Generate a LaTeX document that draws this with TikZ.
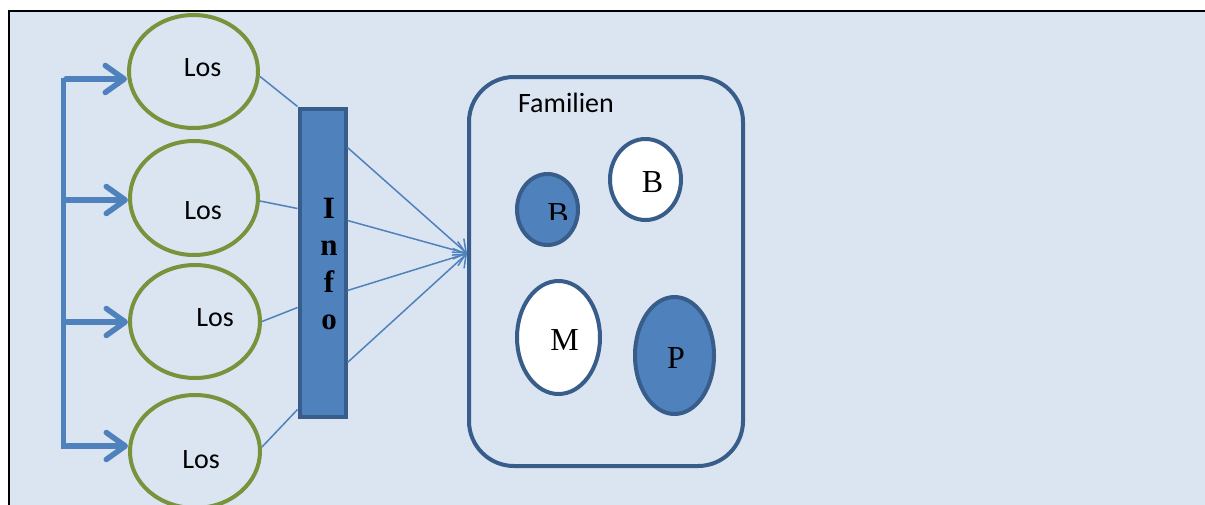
\documentclass[tikz,border=0pt]{standalone}
\usepackage{fontspec}
\setmainfont{Liberation Serif}
\newfontfamily\calibri{Carlito}
\usetikzlibrary{shapes.geometric,arrows.meta}
\definecolor{bg}{HTML}{DBE5F1}
\definecolor{mblue}{HTML}{4F81BD}
\definecolor{dblue}{HTML}{385D8A}
\definecolor{lgreen}{HTML}{77933C}
\begin{document}
\begin{tikzpicture}[x=1pt,y=-1pt,
 losell/.style={ellipse, draw=lgreen, line width=4pt, inner sep=0pt},
 famell/.style={ellipse, draw=dblue, line width=4pt, inner sep=0pt},
 lostext/.style={font=\calibri\fontsize{28}{34}\selectfont, anchor=base, inner sep=0pt},
 sertext/.style={font=\fontsize{32}{36}\selectfont, anchor=base, inner sep=0pt},
 thinline/.style={draw=mblue, line width=1.5pt},
 thinarrow/.style={thinline, -{Straight Barb[length=11pt,width=18pt]}},
 bracket/.style={draw=mblue, line width=5.5pt},
 bracketarrow/.style={bracket, -{Straight Barb[length=19pt,width=27pt,round]}, line cap=round},
]
\useasboundingbox (0,0) rectangle (1205,504);
% frame
\fill[bg] (9,11) rectangle (1220,520);
\draw[black, line width=2pt] (1220,11) -- (9,11) -- (9,520);

% Los ellipses
\node[losell, minimum width=129pt, minimum height=113pt] (los1) at (193.5,71.5) {};
\node[losell, minimum width=128pt, minimum height=114pt] (los2) at (194,198) {};
\node[losell, minimum width=130pt, minimum height=113pt] (los3) at (195,321.5) {};
\node[losell, minimum width=130pt, minimum height=113pt] (los4) at (195,451.5) {};
\node[lostext] (lt1) at (202.5,76) {Los};
\node[lostext] (lt2) at (203,219) {Los};
\node[lostext] (lt3) at (215,326) {Los};
\node[lostext] (lt4) at (201,468) {Los};

% bracket
\coordinate (t1) at (63.5,78);
\coordinate (t4) at (63.5,448.5);
\draw[bracket] (t1) -- (t4);
\coordinate (a1) at (66,79);
\coordinate (a2) at (66,200);
\coordinate (a3) at (67,322);
\coordinate (a4) at (67,446);
\draw[bracketarrow] (a1) -- (a1 -| los1.west);
\draw[bracketarrow] (a2) -- (a2 -| los2.west);
\draw[bracketarrow] (a3) -- (a3 -| los3.west);
\draw[bracketarrow] (a4) -- (a4 -| los4.west);

% Info bar
\node[rectangle, fill=mblue, draw=dblue, line width=4pt, minimum width=46pt, minimum height=308pt, inner sep=0pt] (info) at (322.5,262.5) {};
\node[font=\bfseries\fontsize{31}{37.3}\selectfont, align=center, inner sep=0pt] (infotext) at (329,264) {I\\n\\f\\o};

% Los -> Info
\draw[thinline] ([yshift=-5pt]los1.east) -- (info.north west);
\draw[thinline] ([yshift=-3pt]los2.east) -- ([yshift=-102pt]info.north west);
\draw[thinline] (los3.east) -- ([yshift=-201pt]info.north west);
\draw[thinline] ([yshift=4.5pt]los4.east) -- ([yshift=-303pt]info.north west);

% Familien box
\node[rectangle, rounded corners=45pt, draw=dblue, line width=4pt, minimum width=274pt, minimum height=389pt, inner sep=0pt] (fam) at (606,271.5) {};
\node[lostext] (famtext) at (566,112) {Familien};
\coordinate (tip) at ([yshift=18pt]fam.west);

% Info -> Familien
\draw[thinarrow] ([yshift=-41pt]info.north east) -- (tip);
\draw[thinarrow] ([yshift=-114pt]info.north east) -- (tip);
\draw[thinarrow] ([yshift=-184pt]info.north east) -- (tip);
\draw[thinarrow] ([yshift=-256pt]info.north east) -- (tip);

% family members
\node[famell, fill=mblue, minimum width=61pt, minimum height=71pt] (b1) at (547.5,209.5) {};
\node[famell, fill=white, minimum width=71pt, minimum height=81pt] (b2) at (645.5,179.5) {};
\node[famell, fill=white, minimum width=83pt, minimum height=113pt] (m) at (558.5,337.5) {};
\node[famell, fill=mblue, minimum width=79pt, minimum height=117pt] (p) at (674.5,355.5) {};
\begin{scope}
\clip (530,190) rectangle (590,219.5);
\node[sertext] (b1text) at (558,224) {B};
\end{scope}
\node[sertext] (b2text) at (652.5,192) {B};
\node[sertext] (mtext) at (564.5,350) {M};
\node[sertext] (ptext) at (676,368) {P};
\end{tikzpicture}
\end{document}
